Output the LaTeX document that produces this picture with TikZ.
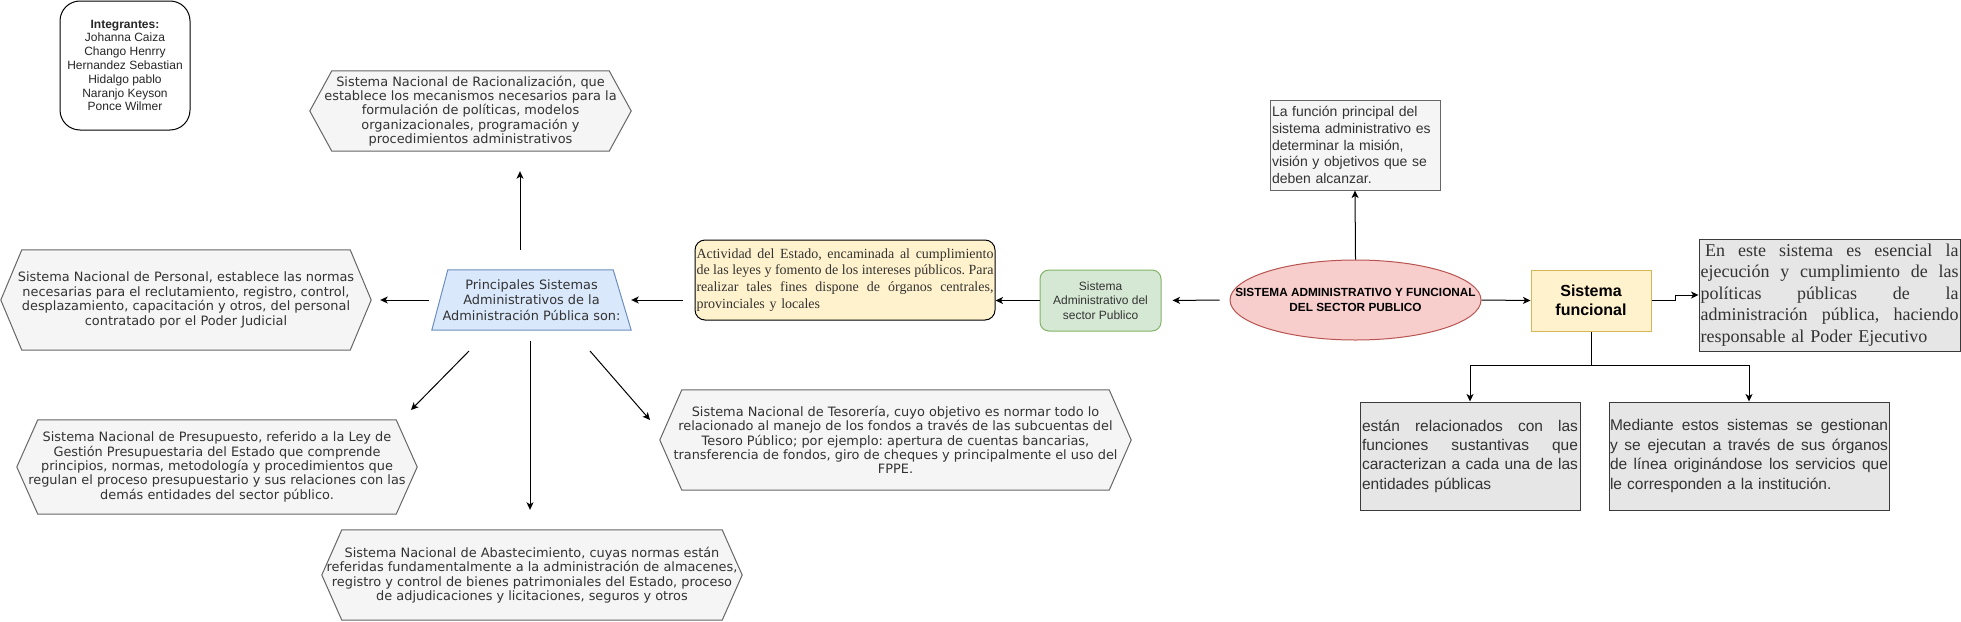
\documentclass[tikz,border=0pt]{standalone}
\usepackage{fontspec}
\setmainfont{Liberation Sans}
\newfontfamily\verdf{DejaVu Sans}
\newfontfamily\timesf{Liberation Serif}
\usetikzlibrary{arrows.meta,shapes.geometric,backgrounds}
\frenchspacing
\definecolor{hexfill}{HTML}{F5F5F5}
\definecolor{hexline}{HTML}{666666}
\definecolor{tx}{HTML}{333333}
\definecolor{trfill}{HTML}{DAE8FC}
\definecolor{trline}{HTML}{6C8EBF}
\definecolor{grfill}{HTML}{D5E8D4}
\definecolor{grline}{HTML}{82B366}
\definecolor{yfill}{HTML}{FFF2CC}
\definecolor{sfline}{HTML}{D6B656}
\definecolor{elfill}{HTML}{F8CECC}
\definecolor{elline}{HTML}{B85450}
\definecolor{gfill}{HTML}{E6E6E6}
\definecolor{gline}{HTML}{3A3A3A}
\newcommand\jline[2]{\makebox[#1][s]{\frenchspacing\spaceskip=\fontdimen2\font plus 1fill\relax #2}}
\newcommand\hexpath[2]{%
  \filldraw[hexs] (#1.west) -- ([xshift=#2]#1.north west) -- ([xshift=-#2]#1.north east)
    -- (#1.east) -- ([xshift=-#2]#1.south east) -- ([xshift=#2]#1.south west) -- cycle;}
\tikzset{
  every node/.style={inner sep=0pt},
  hexn/.style={rectangle, inner sep=0pt, align=center, text=tx, font=\verdf\fontsize{12.9}{14.4}\selectfont},
  hexs/.style={draw=hexline, fill=hexfill, line width=1pt},
  arr/.style={-{Stealth[length=7.5pt,width=7pt,inset=2pt]}, line width=1pt},
  plain/.style={line width=1pt},
  graybox/.style={draw=gline, fill=gfill, line width=1pt, align=left, text=tx},
}
\begin{document}
\begin{tikzpicture}[x=1pt,y=-1pt]
\useasboundingbox (0,0) rectangle (1961,621);

% Integrantes
\node[draw=black, fill=white, line width=1pt, rounded corners=20pt, minimum width=130pt, minimum height=129pt,
  align=center, font=\fontsize{12}{13.8}\selectfont, text=black!85] (int) at (125,65.5)
  {\textbf{Integrantes:}\\Johanna Caiza\\Chango Henrry\\Hernandez Sebastian\\Hidalgo pablo\\Naranjo Keyson\\Ponce Wilmer};

% hexagon nodes
\node[hexn, minimum width=321pt, minimum height=80pt] (rac) at (470.5,111)
  {Sistema Nacional de Racionalización, que\\establece los mecanismos necesarios para la\\formulación de políticas, modelos\\organizacionales, programación y\\procedimientos administrativos};
\node[hexn, minimum width=370pt, minimum height=100pt] (per) at (186,300)
  {Sistema Nacional de Personal, establece las normas\\necesarias para el reclutamiento, registro, control,\\desplazamiento, capacitación y otros, del personal\\contratado por el Poder Judicial};
\node[hexn, minimum width=400pt, minimum height=94pt] (pre) at (217,467)
  {Sistema Nacional de Presupuesto, referido a la Ley de\\Gestión Presupuestaria del Estado que comprende\\principios, normas, metodología y procedimientos que\\regulan el proceso presupuestario y sus relaciones con las\\demás entidades del sector público.};
\node[hexn, minimum width=471pt, minimum height=100pt] (tes) at (895.5,440)
  {Sistema Nacional de Tesorería, cuyo objetivo es normar todo lo\\relacionado al manejo de los fondos a través de las subcuentas del\\Tesoro Público; por ejemplo: apertura de cuentas bancarias,\\transferencia de fondos, giro de cheques y principalmente el uso del\\FPPE.};
\node[hexn, minimum width=420pt, minimum height=90pt] (aba) at (532,575)
  {Sistema Nacional de Abastecimiento, cuyas normas están\\referidas fundamentalmente a la administración de almacenes,\\registro y control de bienes patrimoniales del Estado, proceso\\de adjudicaciones y licitaciones, seguros y otros};

% trapezoid
\node[hexn, minimum width=199pt, minimum height=60pt, font=\verdf\fontsize{12.9}{15.5}\selectfont] (pr) at (531.5,300)
  {Principales Sistemas\\Administrativos de la\\Administración Pública son:};

\begin{scope}[on background layer]
  \hexpath{rac}{22pt}
  \hexpath{per}{21pt}
  \hexpath{pre}{21pt}
  \hexpath{tes}{22pt}
  \hexpath{aba}{20pt}
  \filldraw[draw=trline, fill=trfill, line width=1pt] (pr.south west) -- ([xshift=16pt]pr.north west)
    -- ([xshift=-18pt]pr.north east) -- (pr.south east) -- cycle;
\end{scope}

% Actividad
\node[draw=black, fill=yfill, line width=1pt, rounded corners=10pt, minimum height=80pt, text width=297pt,
  inner xsep=1.5pt, align=left, font=\timesf\fontsize{14}{16.8}\selectfont, text=tx] (act) at (845,280)
  {\jline{297pt}{Actividad del Estado, encaminada al cumplimiento}\\
   \jline{297pt}{de las leyes y fomento de los intereses públicos. Para}\\
   \jline{297pt}{realizar tales fines dispone de órganos centrales,}\\
   provinciales y locales};

% Sistema administrativo del sector publico
\node[draw=grline, fill=grfill, line width=1pt, rounded corners=9pt, minimum width=121pt, minimum height=61pt,
  align=center, text=tx, font=\fontsize{12}{14.4}\selectfont] (sap) at (1100.5,300.5)
  {Sistema\\Administrativo del\\sector Publico};

% main ellipse
\node[ellipse, draw=elline, fill=elfill, line width=1pt, minimum width=251pt, minimum height=80pt,
  label={[font=\bfseries\fontsize{11.8}{14.3}\selectfont, align=center, text=black]center:{SISTEMA ADMINISTRATIVO Y FUNCIONAL\\DEL SECTOR PUBLICO}}]
  (main) at (1355.5,300) {};

% funcion principal
\node[draw=hexline, fill=hexfill, line width=1pt, minimum height=90pt, text width=166pt, inner xsep=2pt,
  align=left, text=tx, font=\fontsize{14}{16.8}\selectfont] (fp) at (1355,145)
  {La función principal del\\sistema administrativo es\\determinar la misión,\\visión y objetivos que se\\deben alcanzar.};

% Sistema funcional
\node[draw=sfline, fill=yfill, line width=1pt, minimum width=120pt, minimum height=61pt, align=center,
  font=\bfseries\fontsize{16}{19}\selectfont] (sf) at (1591,300.5) {Sistema\\funcional};

% En este sistema
\node[graybox, minimum height=112pt, text width=258pt, inner xsep=1.5pt,
  font=\timesf\fontsize{18}{21.6}\selectfont] (en) at (1829.5,295)
  {\jline{258pt}{\hspace*{4.5pt}En este sistema es esencial la}\\
   \jline{258pt}{ejecución y cumplimiento de las}\\
   \jline{258pt}{políticas públicas de la}\\
   \jline{258pt}{administración pública, haciendo}\\
   responsable al Poder Ejecutivo};

% bottom boxes
\node[graybox, minimum width=220pt, minimum height=108pt, text width=216pt, inner xsep=2pt,
  font=\fontsize{15.5}{19.4}\selectfont] (b1) at (1470,456)
  {\jline{216pt}{están relacionados con las}\\
   \jline{216pt}{funciones sustantivas que}\\
   \jline{216pt}{caracterizan a cada una de las}\\
   entidades públicas};
\node[graybox, minimum width=280pt, minimum height=108pt, text width=278pt, inner xsep=1pt,
  font=\fontsize{15.5}{19.4}\selectfont] (b2) at (1749,456)
  {\jline{278pt}{Mediante estos sistemas se gestionan}\\
   \jline{278pt}{y se ejecutan a través de sus órganos}\\
   \jline{278pt}{de línea originándose los servicios que}\\
   le corresponden a la institución.};

% connectors
\draw[arr, shorten <=20pt, shorten >=20pt] ([xshift=-11.5pt]pr.north) -- ([xshift=-11.5pt]pr.north |- rac.south);
\draw[arr, shorten <=11pt, shorten >=20pt] ([xshift=-1.5pt]pr.south) -- ([xshift=-1.5pt]pr.south |- aba.north);
\draw[arr, shorten <=3pt, shorten >=9pt] (pr.west) -- (per.east);
\coordinate (s1) at (469,351);
\coordinate (e1) at (411,410);
\draw[arr] (s1) -- (e1);
\coordinate (s2) at (590,351);
\coordinate (e2) at (650,420);
\draw[arr] (s2) -- (e2);
\draw[arr, shorten <=12pt] (act.west |- pr.east) -- (pr.east);
\draw[arr] (sap.west) -- (act.east |- sap.west);
\draw[arr, shorten <=10pt, shorten >=11pt] (main.west) -- (sap.east);
\draw[arr] (main.north) -- (fp.south);
\draw[arr] (main.east) -- (sf.west);
\draw[arr] (sf.east) -- ++(24,0) |- (en.west);
\draw[plain] (sf.south) -- ++(0,34) coordinate (j);
\draw[arr] (j) -| (b1.north);
\draw[arr] (j) -| (b2.north);
\end{tikzpicture}
\end{document}
